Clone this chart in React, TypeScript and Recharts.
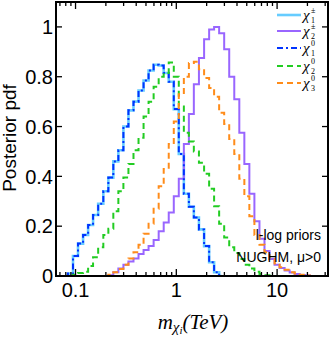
import React from 'react';
import { LineChart, Line, XAxis, YAxis } from 'recharts';

const massBins = [0.0631, 0.0708, 0.0794, 0.0891, 0.1, 0.112, 0.126, 0.141, 0.158, 0.178, 0.2, 0.224, 0.251, 0.282, 0.316, 0.355, 0.398, 0.447, 0.501, 0.562, 0.631, 0.708, 0.794, 0.891, 1, 1.12, 1.26, 1.41, 1.58, 1.78, 2, 2.24, 2.51, 2.82, 3.16, 3.55, 3.98, 4.47, 5.01, 5.62, 6.31, 7.08, 7.94, 8.91, 10, 11.2, 12.6, 14.1, 15.8, 17.8, 20, 22.4, 25.1, 28.2, 31.6];

const chargino1 = [0, 0, 0, 0.01, 0.08, 0.13, 0.165, 0.205, 0.245, 0.29, 0.34, 0.395, 0.46, 0.505, 0.6, 0.665, 0.7, 0.745, 0.785, 0.825, 0.848, 0.845, 0.815, 0.78, 0.67, 0.49, 0.33, 0.278, 0.235, 0.187, 0.12, 0.055, 0.015, 0, 0, 0, 0, 0, 0, 0, 0, 0, 0, 0, 0, 0, 0, 0, 0, 0, 0, 0, 0, 0, 0];
const chargino2 = [0, 0, 0, 0, 0, 0, 0, 0, 0, 0, 0, 0.003, 0.015, 0.03, 0.045, 0.058, 0.07, 0.088, 0.104, 0.12, 0.145, 0.18, 0.215, 0.255, 0.32, 0.39, 0.53, 0.65, 0.77, 0.875, 0.95, 0.99, 1.0, 0.975, 0.91, 0.8, 0.71, 0.575, 0.45, 0.33, 0.22, 0.15, 0.1, 0.068, 0.045, 0.032, 0.022, 0.014, 0.008, 0.004, 0.002, 0, 0, 0, 0];
const neutralino1 = [0, 0, 0, 0.01, 0.08, 0.13, 0.165, 0.205, 0.245, 0.29, 0.34, 0.395, 0.46, 0.505, 0.6, 0.665, 0.7, 0.745, 0.785, 0.825, 0.848, 0.845, 0.815, 0.78, 0.67, 0.49, 0.33, 0.278, 0.235, 0.187, 0.12, 0.055, 0.015, 0, 0, 0, 0, 0, 0, 0, 0, 0, 0, 0, 0, 0, 0, 0, 0, 0, 0, 0, 0, 0, 0];
const neutralino2 = [0, 0, 0, 0, 0.005, 0.012, 0.017, 0.04, 0.075, 0.115, 0.165, 0.19, 0.26, 0.34, 0.395, 0.45, 0.505, 0.555, 0.64, 0.7, 0.76, 0.8, 0.815, 0.857, 0.8, 0.68, 0.575, 0.54, 0.5, 0.455, 0.41, 0.35, 0.28, 0.21, 0.155, 0.115, 0.092, 0.068, 0.045, 0.03, 0.017, 0.008, 0.003, 0, 0, 0, 0, 0, 0, 0, 0, 0, 0, 0, 0];
const neutralino3 = [0, 0, 0, 0, 0, 0, 0, 0, 0, 0, 0, 0.005, 0.015, 0.028, 0.045, 0.07, 0.095, 0.125, 0.17, 0.21, 0.27, 0.36, 0.43, 0.53, 0.62, 0.73, 0.8, 0.855, 0.86, 0.83, 0.795, 0.755, 0.72, 0.655, 0.61, 0.55, 0.49, 0.39, 0.32, 0.24, 0.165, 0.125, 0.095, 0.068, 0.05, 0.035, 0.025, 0.015, 0.01, 0.005, 0.002, 0, 0, 0, 0];

const xMajorTicks = [0.1, 1, 10];
const xMinorTicks = [0.07, 0.08, 0.09, 0.2, 0.3, 0.4, 0.5, 0.6, 0.7, 0.8, 0.9, 2, 3, 4, 5, 6, 7, 8, 9, 20, 30];
const xTickLabels = ['0.1', '1', '10'];
const yTicks = [0, 0.2, 0.4, 0.6, 0.8, 1];
const yTickLabels = ['0', '0.2', '0.4', '0.6', '0.8', '1'];

const seriesNames = [
  { key: 'c1', sup: '±', sub: '1' },
  { key: 'c2', sup: '±', sub: '2' },
  { key: 'n1', sup: '0', sub: '1' },
  { key: 'n2', sup: '0', sub: '2' },
  { key: 'n3', sup: '0', sub: '3' },
];

const styles: Record<string, { color: string; width: number; dash?: string }> = {
  c1: { color: '#66ccff', width: 2.6 },
  c2: { color: '#9966ff', width: 2 },
  n1: { color: '#0033ff', width: 2, dash: '6 3 2 3' },
  n2: { color: '#22cc22', width: 2, dash: '6 4' },
  n3: { color: '#ff8c1a', width: 2, dash: '6 4' },
};

const trim = (vals: number[]) =>
  vals.map((v, i) => {
    const prev = i > 0 ? vals[i - 1] : 0;
    const next = i < vals.length - 1 ? vals[i + 1] : 0;
    return v === 0 && prev === 0 && next === 0 ? null : v;
  });

const cols = {
  c1: trim(chargino1),
  c2: trim(chargino2),
  n1: trim(neutralino1),
  n2: trim(neutralino2),
  n3: trim(neutralino3),
};

const data = massBins.map((m, i) => ({
  m,
  c1: cols.c1[i],
  c2: cols.c2[i],
  n1: cols.n1[i],
  n2: cols.n2[i],
  n3: cols.n3[i],
}));

const allXTicks = [...xMajorTicks, ...xMinorTicks].sort((a, b) => a - b);
const SANS = 'Liberation Sans, Arial, Helvetica, sans-serif';
const SERIF = 'Liberation Serif, Times New Roman, serif';

const BottomTick = (props: any) => {
  const { x, y, payload } = props;
  const idx = xMajorTicks.indexOf(payload.value);
  const major = idx >= 0;
  return (
    <g>
      <line x1={x} x2={x} y1={y} y2={y - (major ? 7 : 4)} stroke="#000" strokeWidth={1.3} />
      {major && (
        <text x={x} y={y + 21} textAnchor="middle" fontSize={20} fontFamily={SANS} fill="#000">
          {xTickLabels[idx]}
        </text>
      )}
    </g>
  );
};

const TopTick = (props: any) => {
  const { x, y, payload } = props;
  const major = xMajorTicks.indexOf(payload.value) >= 0;
  return <line x1={x} x2={x} y1={y} y2={y + (major ? 7 : 4)} stroke="#000" strokeWidth={1.3} />;
};

const LeftTick = (props: any) => {
  const { x, y, payload } = props;
  const idx = yTicks.indexOf(payload.value);
  return (
    <g>
      <line x1={x} x2={x + 6} y1={y} y2={y} stroke="#000" strokeWidth={1.3} />
      <text x={x - 3} y={y} dy="0.36em" textAnchor="end" fontSize={20} fontFamily={SANS} fill="#000">
        {yTickLabels[idx]}
      </text>
    </g>
  );
};

const RightTick = (props: any) => {
  const { x, y } = props;
  return <line x1={x} x2={x - 6} y1={y} y2={y} stroke="#000" strokeWidth={1.3} />;
};

const axisLine = { stroke: '#000', strokeWidth: 2, strokeLinecap: 'square' as const };

const legendRows = [15, 31, 48, 66, 83];

export default function App() {
  return (
    <div style={{ position: 'absolute', left: 0, top: 0, width: 332, height: 338, background: '#fff' }}>
      <LineChart width={332} height={338} data={data} margin={{ top: 1, right: 3, bottom: 61, left: 55 }}>
        <XAxis
          xAxisId="b"
          dataKey="m"
          type="number"
          scale="log"
          domain={[0.064, 32]}
          allowDataOverflow
          ticks={allXTicks}
          interval={0}
          tick={<BottomTick />}
          tickLine={false}
          tickSize={0}
          tickMargin={0}
          height={1}
          axisLine={axisLine}
        />
        <XAxis
          xAxisId="t"
          orientation="top"
          dataKey="m"
          type="number"
          scale="log"
          domain={[0.064, 32]}
          allowDataOverflow
          ticks={allXTicks}
          interval={0}
          tick={<TopTick />}
          tickLine={false}
          tickSize={0}
          tickMargin={0}
          height={1}
          axisLine={axisLine}
        />
        <YAxis
          yAxisId="l"
          type="number"
          domain={[0, 1.1]}
          allowDataOverflow
          ticks={yTicks}
          interval={0}
          tick={<LeftTick />}
          tickLine={false}
          tickSize={0}
          tickMargin={0}
          width={1}
          axisLine={axisLine}
        />
        <YAxis
          yAxisId="r"
          orientation="right"
          type="number"
          domain={[0, 1.1]}
          allowDataOverflow
          ticks={yTicks}
          interval={0}
          tick={<RightTick />}
          tickLine={false}
          tickSize={0}
          tickMargin={0}
          width={1}
          axisLine={axisLine}
        />
        {seriesNames.map((s) => (
          <Line
            key={s.key}
            xAxisId="b"
            yAxisId="l"
            dataKey={s.key}
            type="step"
            stroke={styles[s.key].color}
            strokeWidth={styles[s.key].width}
            strokeDasharray={styles[s.key].dash}
            dot={false}
            activeDot={false}
            connectNulls={false}
            isAnimationActive={false}
          />
        ))}
      </LineChart>
      <svg
        width={332}
        height={338}
        style={{ position: 'absolute', left: 0, top: 0, pointerEvents: 'none' }}
      >
        {seriesNames.map((s, i) => {
          const y = legendRows[i];
          const st = styles[s.key];
          return (
            <g key={s.key}>
              <line x1={277} x2={301} y1={y} y2={y} stroke={st.color} strokeWidth={st.width} strokeDasharray={st.dash} />
              <text x={303} y={y + 5} fontFamily={SERIF} fill="#000">
                <tspan fontStyle="italic" fontSize={15}>χ</tspan>
                <tspan x={311} y={y - 2} fontSize={8}>{s.sup}</tspan>
                <tspan x={311} y={y + 8} fontSize={8}>{s.sub}</tspan>
              </text>
            </g>
          );
        })}
        <text x={321} y={240} textAnchor="end" fontSize={14} fontFamily={SANS} fill="#000">
          l-log priors
        </text>
        <text x={321} y={262} textAnchor="end" fontSize={14} fontFamily={SANS} fill="#000">
          NUGHM, μ&gt;0
        </text>
        <text transform="translate(16,138) rotate(-90)" textAnchor="middle" fontSize={19} fontFamily={SANS} fill="#000">
          Posterior pdf
        </text>
        <text x={193} y={329} textAnchor="middle" fontFamily={SERIF} fontStyle="italic" fontSize={21} fill="#000">
          <tspan>m</tspan>
          <tspan fontSize={15} dy={3}>χ</tspan>
          <tspan fontSize={11} dy={2}>i</tspan>
          <tspan fontSize={21} dy={-5}>(TeV)</tspan>
        </text>
      </svg>
    </div>
  );
}
